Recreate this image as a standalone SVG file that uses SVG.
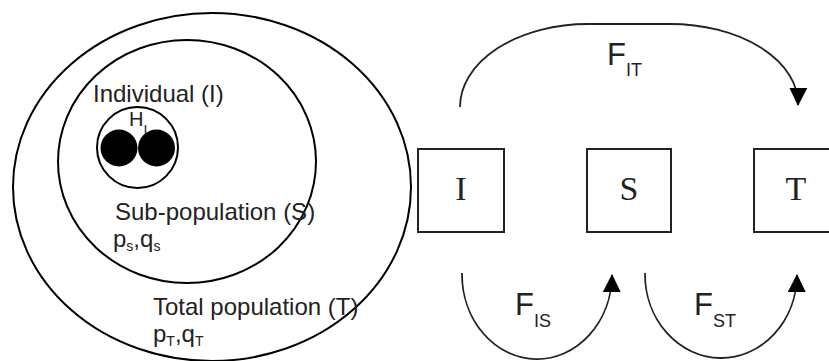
<svg xmlns="http://www.w3.org/2000/svg" width="829" height="361" viewBox="0 0 829 361">
  <style>
    .ring { fill: none; stroke: #000; stroke-width: 2; }
    .box { fill: #fff; stroke: #222; stroke-width: 2; }
    .lbl { font-family: "Liberation Sans", Arial, sans-serif; fill: #222; }
    .mono { font-family: "Liberation Serif", "Times New Roman", serif; fill: #222; font-size: 34px; text-anchor: middle; }
    .arc { fill: none; stroke: #222; stroke-width: 1.8; }
  </style>
  <defs>
    <marker id="head" viewBox="0 0 20 20" refX="19" refY="10" markerWidth="18" markerHeight="19" markerUnits="userSpaceOnUse" orient="auto">
      <path d="M0,0 L20,10 L0,20 Z" fill="#000"/>
    </marker>
  </defs>
  <rect width="829" height="361" fill="#fff"/>

  <!-- nested population rings -->
  <g id="total-population">
    <ellipse class="ring" cx="212" cy="187" rx="199" ry="174"/>
    <text class="lbl" x="153" y="315" font-size="24">Total population (T)</text>
    <text class="lbl" x="153" y="342" font-size="24">p<tspan font-size="14" dy="4">T</tspan><tspan dy="-4">,q</tspan><tspan font-size="14" dy="4">T</tspan></text>
  </g>
  <g id="sub-population">
    <ellipse class="ring" cx="187" cy="161.5" rx="129" ry="121.5"/>
    <text class="lbl" x="115" y="220" font-size="24">Sub-population (S)</text>
    <text class="lbl" x="113" y="247" font-size="24">p<tspan font-size="14" dy="4">s</tspan><tspan dy="-4">,q</tspan><tspan font-size="14" dy="4">s</tspan></text>
  </g>
  <g id="individual">
    <text class="lbl" x="93" y="102" font-size="24">Individual (I)</text>
    <text class="lbl" x="129" y="126" font-size="20">H<tspan font-size="14" dy="9">I</tspan></text>
    <circle class="ring" cx="137.5" cy="147.5" r="40.5"/>
    <circle cx="119" cy="148" r="18.5" fill="#000"/>
    <circle cx="156.5" cy="148" r="18.5" fill="#000"/>
  </g>

  <!-- hierarchy levels -->
  <g id="node-I">
    <rect class="box" x="418" y="149" width="86" height="83"/>
    <text class="mono" x="461" y="200">I</text>
  </g>
  <g id="node-S">
    <rect class="box" x="587" y="149" width="84" height="83"/>
    <text class="mono" x="629" y="200">S</text>
  </g>
  <g id="node-T">
    <rect class="box" x="754" y="149" width="84" height="83"/>
    <text class="mono" x="796" y="200">T</text>
  </g>

  <!-- F-statistic connectors -->
  <g id="connectors">
    <path class="arc" d="M460,107 A128,83 0 0 1 588,24 L670,24 A128,80 0 0 1 798,105" marker-end="url(#head)"/>
    <path class="arc" d="M462,273 A74,84 0 0 0 612,275" marker-end="url(#head)"/>
    <path class="arc" d="M645,273 A76,84 0 0 0 797,275" marker-end="url(#head)"/>
    <text class="lbl" x="607" y="65" font-size="31">F<tspan font-size="18" dy="11">IT</tspan></text>
    <text class="lbl" x="515" y="315" font-size="31">F<tspan font-size="18" dy="12">IS</tspan></text>
    <text class="lbl" x="694" y="315" font-size="31">F<tspan font-size="18" dy="12">ST</tspan></text>
  </g>
</svg>
